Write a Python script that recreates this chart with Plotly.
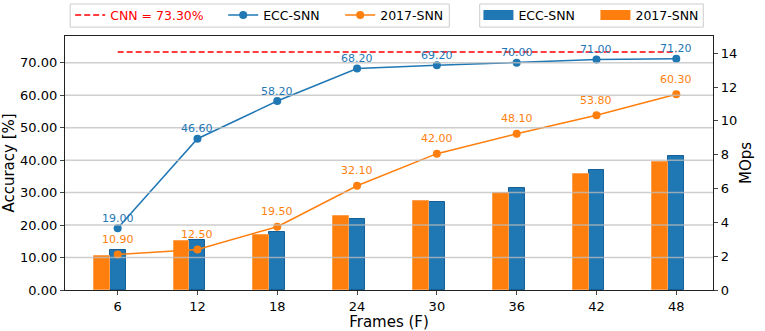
import plotly.graph_objects as go

frames = [6, 12, 18, 24, 30, 36, 42, 48]
ecc_acc = [19.00, 46.60, 58.20, 68.20, 69.20, 70.00, 71.00, 71.20]
snn2017_acc = [10.90, 12.50, 19.50, 32.10, 42.00, 48.10, 53.80, 60.30]
ecc_mops = [2.38, 2.97, 3.41, 4.18, 5.23, 6.06, 7.11, 7.90]
snn2017_mops = [2.04, 2.92, 3.27, 4.36, 5.26, 5.76, 6.84, 7.55]
cnn_acc = 73.30
acc_ticks = [0, 10, 20, 30, 40, 50, 60, 70]
mops_ticks = [0, 2, 4, 6, 8, 10, 12, 14]

BLUE = "#1f77b4"
ORANGE = "#ff7f0e"
FONT = "DejaVu Sans"
bar_w = 0.2
idx = list(range(len(frames)))

fig = go.Figure()

# bars on the MOps axis (primary y, drawn on the right)
fig.add_trace(go.Bar(x=[i for i in idx], y=ecc_mops, width=bar_w, name="ECC-SNN",
                     marker=dict(color=BLUE, line=dict(color="#16609a", width=1)),
                     showlegend=False, yaxis="y"))
fig.add_trace(go.Bar(x=[i - bar_w for i in idx], y=snn2017_mops, width=bar_w, name="2017-SNN",
                     marker=dict(color=ORANGE, line=dict(color="#ffa04f", width=1)),
                     showlegend=False, yaxis="y"))

# legend patches for the bars (legend entries only)
fig.add_trace(go.Scatter(x=[None], y=[None], mode="lines", name="ECC-SNN",
                         line=dict(color=BLUE, width=10), legend="legend2", legendwidth=72))
fig.add_trace(go.Scatter(x=[None], y=[None], mode="lines", name="2017-SNN",
                         line=dict(color=ORANGE, width=10), legend="legend2", legendwidth=62))

# accuracy lines (overlay axis, drawn on the left)
fig.add_trace(go.Scatter(x=[idx[0], idx[-1]], y=[cnn_acc, cnn_acc], mode="lines",
                         name="<span style='color:red'>CNN = %.2f%%</span>" % cnn_acc,
                         line=dict(color="red", width=1.5, dash="6px,3px"),
                         legend="legend", yaxis="y2", legendwidth=108))
fig.add_trace(go.Scatter(x=idx, y=ecc_acc, mode="lines+markers", name="ECC-SNN",
                         line=dict(color=BLUE, width=1.5), marker=dict(size=8, color=BLUE),
                         legend="legend", yaxis="y2", legendwidth=72))
fig.add_trace(go.Scatter(x=idx, y=snn2017_acc, mode="lines+markers", name="2017-SNN",
                         line=dict(color=ORANGE, width=1.5), marker=dict(size=8, color=ORANGE),
                         legend="legend", yaxis="y2", legendwidth=62))

annotations = []
for i, v in zip(idx, ecc_acc):
    annotations.append(dict(x=i, y=v, xref="x", yref="y2", text="%.2f" % v, showarrow=False,
                            yshift=10, font=dict(family=FONT, size=11, color=BLUE)))
for i, v in zip(idx, snn2017_acc):
    annotations.append(dict(x=i, y=v, xref="x", yref="y2", text="%.2f" % v, showarrow=False,
                            yshift=15, font=dict(family=FONT, size=11, color=ORANGE)))

shapes = []
for t in acc_ticks[1:]:
    shapes.append(dict(type="line", xref="paper", x0=0, x1=1, yref="y2", y0=t, y1=t,
                       layer="above", line=dict(color="rgba(190,190,190,0.75)", width=1.5)))
# legend frames
for x0, x1 in [(0.008, 0.593), (0.64, 0.985)]:
    shapes.append(dict(type="rect", xref="paper", yref="paper", x0=x0, x1=x1,
                       y0=1.035, y1=1.126, layer="below",
                       line=dict(color="#cccccc", width=1), fillcolor="white"))

fig.update_layout(
    width=765, height=331,
    margin=dict(l=65, r=52, t=36, b=41, autoexpand=False),
    paper_bgcolor="white", plot_bgcolor="white",
    font=dict(family=FONT, size=13, color="black"),
    barmode="overlay",
    bargap=0,
    annotations=annotations,
    shapes=shapes,
    xaxis=dict(range=[-0.66, 7.46], tickvals=idx, ticktext=[str(f) for f in frames],
               showgrid=False, zeroline=False, showline=True, mirror=True,
               linecolor="#222", linewidth=1.2, ticks="outside", ticklen=4,
               tickfont=dict(size=13), automargin=False,
               title=dict(text="Frames (F)", font=dict(size=15), standoff=3)),
    yaxis=dict(side="right", range=[0, 15.02], tickvals=mops_ticks,
               showgrid=False, zeroline=False, showline=True, linecolor="#222", linewidth=1.2,
               ticks="outside", ticklen=4, tickfont=dict(size=13), automargin=False,
               title=dict(text="MOps", font=dict(size=15), standoff=4)),
    yaxis2=dict(overlaying="y", side="left", range=[0, 78.24], tickvals=acc_ticks,
                tickformat=".2f", showgrid=False, zeroline=False, showline=True,
                linecolor="#222", linewidth=1.2, ticks="outside", ticklen=4,
                tickfont=dict(size=13), automargin=False,
                title=dict(text="Accuracy [%]", font=dict(size=15), standoff=5)),
    legend=dict(orientation="h", x=0.008, y=1.14, xanchor="left", yanchor="top",
                bgcolor="rgba(0,0,0,0)", borderwidth=0,
                font=dict(size=12.5), itemwidth=30, tracegroupgap=0),
    legend2=dict(orientation="h", x=0.638, y=1.14, xanchor="left", yanchor="top",
                 bgcolor="rgba(0,0,0,0)", borderwidth=0,
                 font=dict(size=12.5), itemwidth=30),
)

fig.write_html("out.html", config={"displayModeBar": False},
               post_script="document.body.style.margin='0';document.body.style.overflow='hidden';")
